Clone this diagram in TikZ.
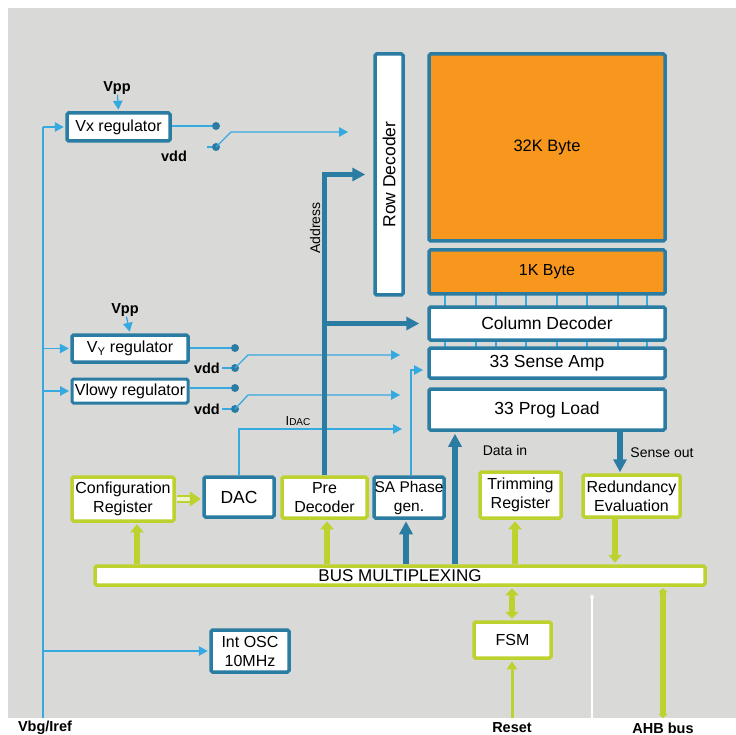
\documentclass[tikz,border=0pt]{standalone}
\usepackage{fontspec}
\setmainfont{Liberation Sans}
\usetikzlibrary{arrows.meta}
\definecolor{bgc}{HTML}{D9D9D8}
\definecolor{dblue}{HTML}{2B7CA3}
\definecolor{lblue}{HTML}{36A9E1}
\definecolor{lime}{HTML}{BDD22F}
\definecolor{orng}{HTML}{F7971D}
\newcommand\fsz[2]{\fontsize{#1}{#2}\selectfont}
\begin{document}
\begin{tikzpicture}[x=1pt,y=-1pt,
 blk/.style={draw=dblue, line width=3.5pt, fill=white, rounded corners=1.5pt, inner sep=0pt, align=center, font=\fsz{16}{19}},
 lblk/.style={blk, draw=lime},
 mem/.style={blk, fill=orng},
 tl/.style={draw=lblue, line width=1.3pt},
 tarr/.style={tl, -{Triangle[length=9pt,width=9.5pt]}},
 thk/.style={draw=dblue, line width=5.5pt, -{Triangle[length=13pt,width=13pt]}},
 lthk/.style={draw=lime, line width=6pt, -{Triangle[length=8pt,width=13pt]}},
 dotn/.style={circle, fill=dblue, inner sep=0pt, minimum size=8pt},
 lbl/.style={font=\bfseries\fsz{14.5}{16}, inner sep=0pt},
 slbl/.style={font=\fsz{14}{16}, inner sep=0pt},
 tick/.style={draw=lblue, line width=2.2pt}
]
\useasboundingbox (0,0) rectangle (736,735);
\fill[bgc] (8,8) rectangle (736,718);

% ticks between memory blocks
\foreach \x in {445,476,496,526,557,587,618,647} {
  \draw[tick] (\x,294) -- (\x,307);
  \draw[tick] (\x,340) -- (\x,348);
}

% memory column
\node[blk, minimum width=28pt, minimum height=241pt] (rowdec) at (389,174.5) {};
\node[rotate=90, font=\fsz{17.5}{20}, inner sep=0pt] (rowdectxt) at (rowdec) {Row Decoder};
\node[mem, font=\fsz{16.5}{19}, minimum width=236pt, minimum height=187pt] (k32) at (547,147.5) {32K Byte};
\node[mem, minimum width=236pt, minimum height=44pt] (k1) at (547,272) {1K Byte};
\node[blk, font=\fsz{17.5}{20}, minimum width=236pt, minimum height=33pt] (coldec) at (547,323.5) {Column Decoder};
\node[blk, font=\fsz{17.5}{20}, minimum width=236pt, minimum height=30pt] (sense) at (547,363) {33 Sense Amp};
\node[blk, font=\fsz{17.5}{20}, minimum width=236pt, minimum height=41pt] (prog) at (547,409.5) {33 Prog Load};

% regulators
\node[blk, minimum width=103pt, minimum height=28pt] (vx) at (118.5,127) {Vx regulator};
\node[blk, minimum width=116pt, minimum height=27pt] (vy) at (130,348.5) {V\textsubscript{Y} regulator};
\node[blk, line width=3pt, minimum width=116pt, minimum height=24pt] (vlowy) at (130,391) {Vlowy regulator};

% lower blocks
\node[lblk, minimum width=102pt, minimum height=44pt] (config) at (123,499) {Configuration\\Register};
\node[blk, font=\fsz{17.5}{20}, minimum width=70pt, minimum height=40pt] (dac) at (239,497) {DAC};
\node[lblk, minimum width=85pt, minimum height=41pt] (predec) at (324.5,497.5) {Pre\\Decoder};
\node[blk, font=\fsz{15.5}{19}, minimum width=70pt, minimum height=41pt] (saph) at (409,497.5) {SA Phase\\gen.};
\node[lblk, minimum width=81pt, minimum height=46pt] (trim) at (520.5,495) {Trimming\\Register};
\node[lblk, minimum width=97pt, minimum height=42pt] (redund) at (631.5,496) {Redundancy\\Evaluation};
\node[lblk, font=\fsz{17}{19}, minimum width=610pt, minimum height=19pt] (bus) at (400,575.5) {BUS MULTIPLEXING};
\node[lblk, minimum width=77pt, minimum height=36pt] (fsm) at (512.5,640) {FSM};
\node[blk, minimum width=78pt, minimum height=42pt] (osc) at (250,651) {Int OSC\\10MHz};

% labels
\node[lbl] (vpp1) at (117,88) {Vpp};
\node[lbl] (vdd1) at (174,156) {vdd};
\node[lbl] (vpp2) at (125,310) {Vpp};
\node[lbl, anchor=east] (vdd2) at (220,368) {vdd};
\node[lbl, anchor=east] (vdd3) at (220,409) {vdd};
\node[slbl] (idac) at (298,421) {\fsz{13}{15}I\fsz{10}{12}DAC};
\node[slbl, rotate=90] (addr) at (315,228) {Address};
\node[slbl] (datain) at (505,450) {Data in};
\node[slbl] (senseout) at (662,453) {Sense out};
\node[lbl] (vbg) at (45,728) {Vbg/Iref};
\node[lbl] (reset) at (512,728) {Reset};
\node[lbl] (ahb) at (663,728) {AHB bus};

% switch dots
\node[dotn] (s1a) at (216,126) {};
\node[dotn] (s1b) at (216,147) {};
\node[dotn] (s2a) at (235,348) {};
\node[dotn] (s2b) at (235,368) {};
\node[dotn] (s3a) at (235,388) {};
\node[dotn] (s3b) at (235,409) {};

% Vbg/Iref distribution line
\coordinate (Ltop) at (43,127);
\coordinate (Lbot) at (43,718);
\draw[tl] (Lbot) -- (Ltop);
\draw[tarr, shorten >=1.5pt] (Ltop) -- (vx.west);
\draw[tarr, shorten >=1.5pt] (Lbot |- vy.west) -- (vy.west);
\draw[tarr, shorten >=1.5pt] (Lbot |- vlowy.west) -- (vlowy.west);
\draw[tarr, shorten >=1.5pt] (Lbot |- osc.west) -- (osc.west);

% Vpp inputs
\draw[tarr, shorten >=1.5pt] (vpp1) -- (vx.north);
\draw[tarr, shorten >=1.5pt] (vpp2) -- (vy.north);

% switches
\coordinate (sw1) at (231,132); \coordinate (t1) at (348,132);
\draw[tl] (vx.east |- s1a) -- (s1a);
\draw[tl] ([xshift=-5pt]s1b.west) -- (s1b);
\draw[tarr] (s1b.center) -- (sw1) -- (t1);

\coordinate (sw2) at (248,355); \coordinate (t2) at (400,355);
\draw[tl] (vy.east |- s2a) -- (s2a);
\draw[tl] ([xshift=2pt]vdd2.east) -- (s2b);
\draw[tarr] (s2b.center) -- (sw2) -- (t2);

\coordinate (sw3) at (248,395); \coordinate (t3) at (400,395);
\draw[tl] (vlowy.east |- s3a) -- (s3a);
\draw[tl] ([xshift=2pt]vdd3.east) -- (s3b);
\draw[tarr] (s3b.center) -- (sw3) -- (t3);

% IDAC and SA phase
\coordinate (t4) at (402,429);
\draw[tarr] (dac.north) |- (t4);
\coordinate (t5) at (423,370);
\draw[tarr] ([xshift=2pt]saph.north) |- (t5);

% Address bus
\draw[thk] (predec.north) |- ([xshift=-8pt]rowdec.west);
\draw[thk] (predec.north |- coldec.west) -- ([xshift=-8pt]coldec.west);

% data in / sense out / SA phase
\coordinate (dx) at (455,0);
\coordinate (sox) at (620,0);
\coordinate (sax) at (406,0);
\draw[thk, shorten >=2pt] (bus.north -| dx) -- (prog.south -| dx);
\draw[thk, shorten >=1pt] (prog.south -| sox) -- (redund.north -| sox);
\draw[thk, shorten >=1.5pt] (bus.north -| sax) -- (saph.south -| sax);

% lime arrows
\coordinate (c1x) at (137,0);
\coordinate (c2x) at (327,0);
\coordinate (c3x) at (515,0);
\coordinate (c4x) at (615,0);
\draw[lthk, shorten >=1.5pt] (bus.north -| c1x) -- (config.south -| c1x);
\draw[lthk, shorten >=1.5pt] (bus.north -| c2x) -- (predec.south -| c2x);
\draw[lthk, shorten >=1.5pt] (bus.north -| c3x) -- (trim.south -| c3x);
\draw[lthk, shorten >=1.5pt] (redund.south -| c4x) -- (bus.north -| c4x);

% config -> DAC hollow arrow
\coordinate (cdend) at ([xshift=-10pt]config.east -| dac.west);
\draw[draw=lime, line width=2.5pt, double=lime!25!white, double distance=3.5pt, shorten <=1.5pt] (config.east) -- (cdend);
\draw[draw=lime, line width=0.5pt, -{Triangle[length=11pt,width=15pt]}, shorten >=1.5pt] ([xshift=-2pt]cdend) -- (config.east -| dac.west);

% FSM, reset, AHB
\coordinate (fx) at (512,0);
\draw[draw=lime, line width=5.5pt, {Triangle[length=7pt,width=13pt]}-{Triangle[length=7pt,width=13pt]}, shorten >=1.5pt, shorten <=1.5pt] (bus.south -| fx) -- (fsm.north -| fx);
\coordinate (rbot) at (512,718);
\draw[draw=lime, line width=3pt, -{Triangle[length=8pt,width=10pt]}, shorten >=1.5pt] (rbot) -- (fsm.south -| rbot);
\coordinate (wbot) at (592,718);
\coordinate (wtop) at (592,594);
\draw[draw=white, line width=1.5pt, -{Triangle[length=4pt,width=4.5pt]}] (wbot) -- (wtop);
\coordinate (abot) at (663,718);
\draw[draw=lime, line width=5.5pt, {Triangle[length=4pt,width=9pt]}-{Triangle[length=4pt,width=9pt]}, shorten >=1.5pt] (abot) -- (bus.south -| abot);
\end{tikzpicture}
\end{document}
